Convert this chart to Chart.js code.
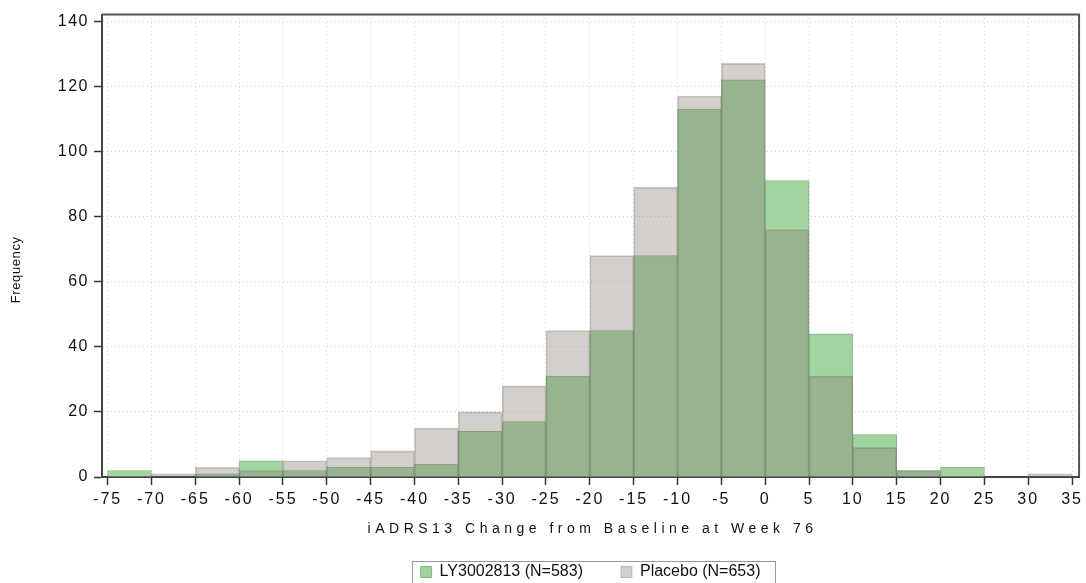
<!DOCTYPE html>
<html>
<head>
<meta charset="utf-8">
<script src="https://cdn.jsdelivr.net/npm/chart.js@4/dist/chart.umd.min.js"></script>
<style>
  html, body { margin: 0; padding: 0; background: #fff; }
  #c { display: block; }
</style>
</head>
<body>
<canvas id="c" width="1086" height="583"></canvas>
<script>
// ---- data ----
const binStarts = [-75,-70,-65,-60,-55,-50,-45,-40,-35,-30,-25,-20,-15,-10,-5,0,5,10,15,20,25,30];
const binWidth = 5;
const lyCounts = [2,0,1,5,2,3,3,4,14,17,31,45,68,113,122,91,44,13,2,3,0,0];
const placeboCounts = [0,1,3,2,5,6,8,15,20,28,45,68,89,117,127,76,31,9,2,0,0,1];
const xTickValues = [-75,-70,-65,-60,-55,-50,-45,-40,-35,-30,-25,-20,-15,-10,-5,0,5,10,15,20,25,30,35];
const yTickValues = [0,20,40,60,80,100,120,140];
const seriesNames = ['LY3002813 (N=583)', 'Placebo (N=653)'];
const xTitle = 'iADRS13 Change from Baseline at Week 76';
const yTitle = 'Frequency';

const FONT = '"Liberation Sans", Arial, sans-serif';

// letter spacing for axis texts (SAS-like wide rendering)
const LinearScale = Chart.registry.getScale('linear');
const P = LinearScale.prototype;
const origTitle = P.drawTitle, origLabels = P.drawLabels;
P.drawTitle = function () {
  const c = this.ctx; c.save();
  if (this.id === 'x') { c.letterSpacing = '4.5px'; c.translate(2, 12); }
  else { c.letterSpacing = '0.6px'; c.translate(0, 24); }
  origTitle.apply(this, arguments); c.restore();
};
P.drawLabels = function () {
  const c = this.ctx; c.save();
  c.letterSpacing = this.id === 'x' ? '2px' : '1.5px';
  origLabels.apply(this, arguments); c.restore();
};

const framePlugin = {
  id: 'frame',
  afterDraw(chart) {
    const {ctx, chartArea: a} = chart;
    ctx.save();
    ctx.strokeStyle = '#555';
    ctx.lineWidth = 2;
    ctx.beginPath();
    ctx.moveTo(a.left, a.top);
    ctx.lineTo(a.right, a.top);
    ctx.lineTo(a.right, a.bottom);
    ctx.stroke();
    // legend border
    const hb = chart.legend.legendHitBoxes;
    if (hb && hb.length) {
      const l = hb[0].left - 9;
      const last = hb[hb.length - 1];
      const r = last.left + last.width + 14;
      const t = hb[0].top - 3;
      ctx.strokeStyle = '#999';
      ctx.lineWidth = 1;
      ctx.strokeRect(Math.round(l) + 0.5, Math.round(t) + 0.5, Math.round(r - l), 60);
    }
    ctx.restore();
  }
};

Chart.defaults.font.family = FONT;
Chart.defaults.color = '#111';

new Chart(document.getElementById('c'), {
  type: 'bar',
  data: {
    datasets: [
      {
        label: seriesNames[0],
        data: binStarts.map((b, i) => ({x: b + binWidth / 2, y: lyCounts[i]})),
        backgroundColor: '#a2d4a0',
        borderColor: '#86b884',
        borderWidth: 1,
        order: 2,
        grouped: false,
        barPercentage: 1,
        categoryPercentage: 1
      },
      {
        label: seriesNames[1],
        data: binStarts.map((b, i) => ({x: b + binWidth / 2, y: placeboCounts[i]})),
        backgroundColor: 'rgba(133,122,113,0.36)',
        borderColor: 'rgba(110,100,92,0.35)',
        borderWidth: 1,
        order: 1,
        grouped: false,
        barPercentage: 1,
        categoryPercentage: 1
      }
    ]
  },
  options: {
    responsive: false,
    animation: false,
    devicePixelRatio: 1,
    layout: { padding: { top: 14, right: 5, left: 0, bottom: -7 } },
    plugins: {
      legend: {
        position: 'bottom',
        fullSize: false,
        labels: {
          boxWidth: 11, boxHeight: 11, padding: 38,
          font: { size: 16, family: FONT }, color: '#111',
          sort: (a, b) => a.datasetIndex - b.datasetIndex
        }
      },
      tooltip: { enabled: false }
    },
    scales: {
      x: {
        type: 'linear',
        offset: false,
        min: -75.64, max: 35.8,
        afterBuildTicks: s => { s.ticks = xTickValues.map(v => ({value: v})); },
        afterFit: s => { s.height = 49; },
        ticks: { callback: v => String(v), font: { size: 16, family: FONT }, color: '#111', padding: 5, maxRotation: 0, autoSkip: false },
        grid: { offset: false, color: '#d2d2d2', lineWidth: 1, tickColor: '#333', tickWidth: 1.5, tickLength: 8, tickBorderDash: [] },
        border: { display: true, color: '#444', width: 2, dash: [1, 3] },
        title: { display: true, text: xTitle, font: { size: 14, family: FONT }, color: '#111', padding: 0 }
      },
      y: {
        type: 'linear',
        min: 0, max: 142,
        afterBuildTicks: s => { s.ticks = yTickValues.map(v => ({value: v})); },
        afterFit: s => { s.width = 102; },
        ticks: { callback: v => String(v), font: { size: 16, family: FONT }, color: '#111', padding: 5 },
        grid: { color: '#d2d2d2', lineWidth: 1, tickColor: '#333', tickWidth: 1.5, tickLength: 8, tickBorderDash: [] },
        border: { display: true, color: '#444', width: 2, dash: [1, 3] },
        title: { display: true, text: yTitle, font: { size: 13, family: FONT }, color: '#111', padding: { top: 9, bottom: 0 } }
      }
    }
  },
  plugins: [framePlugin]
});
</script>
</body>
</html>
